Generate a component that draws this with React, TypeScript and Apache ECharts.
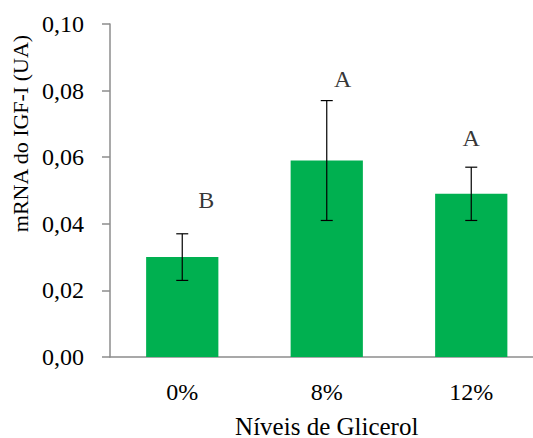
import React, { useEffect, useRef } from "react";
import * as echarts from "echarts";

const categories = ["0%", "8%", "12%"];
const means = [0.03, 0.059, 0.049];
const errHigh = [0.037, 0.077, 0.057];
const errLow = [0.023, 0.041, 0.041];
const letters = ["B", "A", "A"];
const letterValues = [0.047, 0.0835, 0.0658];
const yTicks = [0, 0.02, 0.04, 0.06, 0.08, 0.1];

const FONT = '"Liberation Serif", "Times New Roman", serif';
const letterShift = [24, 16, 0];

export default function App() {
  const ref = useRef<HTMLDivElement>(null);
  useEffect(() => {
    if (!ref.current) return;
    const chart = echarts.init(ref.current, undefined, { renderer: "svg" });
    chart.setOption({
      animation: false,
      grid: { left: 110, top: 24, height: 333, width: 433.5, outerBoundsMode: "none", containLabel: false },
      xAxis: {
        type: "category",
        data: categories,
        name: "Níveis de Glicerol",
        nameLocation: "middle",
        nameGap: 59,
        nameTextStyle: { fontFamily: FONT, fontSize: 25, lineHeight: 20, color: "#000" },
        axisLine: { lineStyle: { color: "#8c8c8c", width: 1.5 } },
        axisTick: { show: false },
        axisLabel: { fontFamily: FONT, fontSize: 24, color: "#000", margin: 23 },
      },
      yAxis: {
        type: "value",
        min: yTicks[0],
        max: yTicks[yTicks.length - 1],
        interval: 0.02,
        name: "mRNA do IGF-I (UA)",
        nameLocation: "middle",
        nameGap: 75,
        nameTextStyle: {
          fontFamily: FONT,
          fontSize: 22,
          color: "#000",
          padding: [0, 0, 0, 114],
        },
        splitLine: { show: false },
        axisLine: { show: true, lineStyle: { color: "#8c8c8c", width: 1.5 } },
        axisTick: { show: true, inside: false, length: 8, lineStyle: { color: "#8c8c8c", width: 1.5 } },
        axisLabel: {
          fontFamily: FONT,
          fontSize: 24,
          color: "#000",
          margin: 26,
          formatter: (v: number) => v.toFixed(2).replace(".", ","),
        },
      },
      series: [
        {
          type: "bar",
          data: means,
          barWidth: "50%",
          itemStyle: { color: "#00B050" },
        },
        {
          type: "custom",
          data: categories.map((_, i) => [i, errHigh[i], errLow[i]]),
          renderItem: (params: any, api: any) => {
            const top = api.coord([api.value(0), api.value(1)]);
            const bot = api.coord([api.value(0), api.value(2)]);
            const cap = 6;
            const style = { stroke: "#000", lineWidth: 1.2 };
            return {
              type: "group",
              children: [
                { type: "line", shape: { x1: top[0], y1: top[1], x2: bot[0], y2: bot[1] }, style },
                { type: "line", shape: { x1: top[0] - cap, y1: top[1], x2: top[0] + cap, y2: top[1] }, style },
                { type: "line", shape: { x1: bot[0] - cap, y1: bot[1], x2: bot[0] + cap, y2: bot[1] }, style },
              ],
            };
          },
          z: 5,
        },
        {
          type: "scatter",
          symbolSize: 1,
          itemStyle: { color: "transparent" },
          data: categories.map((_, i) => ({
            value: [i, letterValues[i]],
            label: {
              show: true,
              position: "inside",
              offset: [letterShift[i], 0],
              formatter: letters[i],
              fontFamily: FONT,
              fontSize: 24,
              color: "#000",
            },
          })),
          z: 6,
        },
      ],
    });
    return () => chart.dispose();
  }, []);
  return (
    <div
      ref={ref}
      style={{ position: "absolute", left: 0, top: 0, width: 533, height: 438, overflow: "hidden" }}
    />
  );
}
